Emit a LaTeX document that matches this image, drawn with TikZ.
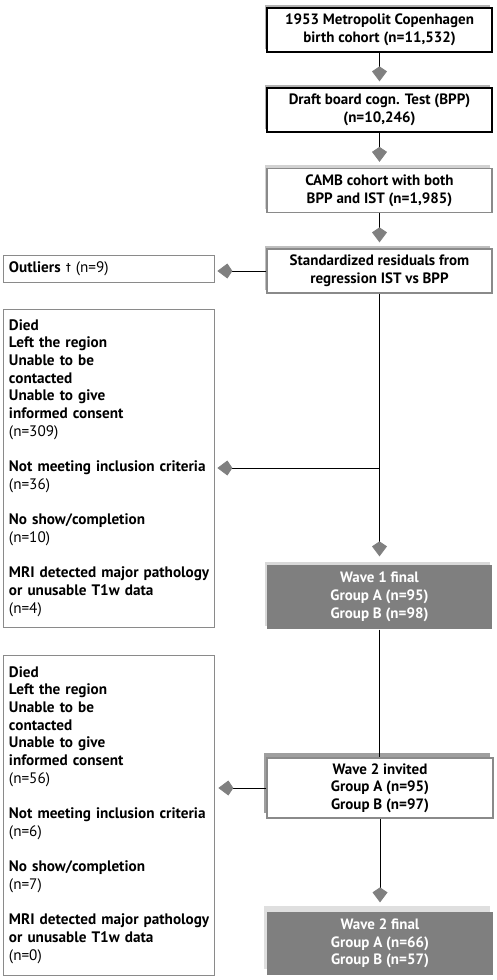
\documentclass[tikz,border=0pt]{standalone}
\usepackage{fontspec}
\setmainfont{PT Sans}
\usetikzlibrary{arrows.meta,shadows}
\definecolor{finalgray}{HTML}{7F7F7F}
\definecolor{framegray}{HTML}{8A8A8A}

\begin{document}
\begin{tikzpicture}[x=1pt,y=-1pt,
  box/.style={draw=black, line width=1.2pt, fill=white, minimum width=225pt, minimum height=44pt,
    inner sep=0pt, align=center, font=\fontsize{15}{17.7}\selectfont\bfseries},
  shade/.style={general shadow={fill=#1, shadow xshift=-2.5pt, shadow yshift=3.5pt}},
  finalbox/.style={box, draw=none, fill=finalgray, text=white, minimum height=64pt},
  sidebox/.style={draw=framegray, line width=0.8pt, fill=white, text width=199pt, inner xsep=6pt,
    inner ysep=0pt, align=left, font=\fontsize{15.2}{17.7}\selectfont\bfseries},
  arr/.style={draw=black, line width=0.8pt,
    -{Kite[length=15pt, width=15pt, inset=5pt, color=gray, fill=gray]}}]
\useasboundingbox (0,0) rectangle (497,980);

\node [box, shade=gray!60] (birth) at (379.5,30) {1953 Metropolit Copenhagen\\birth cohort (n=11,532)};
\node [box, shade=gray!60] (draft) at (379.5,110) {Draft board cogn. Test (BPP)\\(n=10,246)};
\node [box, draw=framegray, shade=gray!35] (camb) at (379.5,190.5) {CAMB cohort with both\\BPP and IST (n=1,985)};
\node [box, draw=framegray, shade=gray!50] (resid) at (379.5,271) {Standardized residuals from\\regression IST vs BPP};

\node [sidebox, minimum height=27pt] (outl) at (108.5,268.5) {Outliers {\fontsize{10}{10}\selectfont\raisebox{2pt}{\textdagger}} \textmd{(n=9)}};

\node [sidebox, minimum height=318pt] (excla) at (108.5,468) {Died\\Left the region\\Unable to be\\contacted\\Unable to give\\informed consent\\\textmd{(n=309)}\\[17.7pt]
\mbox{Not meeting inclusion criteria}\\\textmd{(n=36)}\\[17.7pt]
No show/completion\\\textmd{(n=10)}\\[17.7pt]
\mbox{MRI detected major pathology}\\or unusable T1w data\\\textmd{(n=4)}};

\node [finalbox, shade=gray!30] (wavea) at (379.5,597) {Wave 1 final\\Group A (n=95)\\Group B (n=98)};

\node [box, draw=framegray, minimum width=226pt, minimum height=60pt, general shadow={fill=gray!75, shadow xshift=-3pt, shadow yshift=5pt}] (invb) at (380,788) {Wave 2 invited\\Group A (n=95)\\Group B (n=97)};

\node [sidebox, minimum height=320pt] (exclb) at (108.5,815) {Died\\Left the region\\Unable to be\\contacted\\Unable to give\\informed consent\\\textmd{(n=56)}\\[17.7pt]
\mbox{Not meeting inclusion criteria}\\\textmd{(n=6)}\\[17.7pt]
No show/completion\\\textmd{(n=7)}\\[17.7pt]
\mbox{MRI detected major pathology}\\or unusable T1w data\\\textmd{(n=0)}};

\node [finalbox, minimum width=226pt, minimum height=63pt, general shadow={fill=gray!25, shadow xshift=-3pt, shadow yshift=6pt}] (waveb) at (380,943.5) {Wave 2 final\\Group A (n=66)\\Group B (n=57)};

\draw [arr, shorten >=6pt] (birth) -- (draft);
\draw [arr, shorten >=6pt] (draft) -- (camb);
\draw [arr, shorten >=6pt] (camb) -- (resid);
\draw [arr, shorten >=3pt] (resid.west) -- (resid.west -| outl.east);
\draw [arr, shorten >=8pt] (resid) -- (wavea);
\draw [arr, shorten >=3pt] (resid.south |- excla.east) -- (excla.east);
\draw [line width=0.8pt] (wavea) -- (wavea |- invb.north);
\draw [arr, shorten >=4pt] (invb.west) -- (invb.west -| exclb.east);
\draw [arr, shorten >=9pt] (invb) -- (invb |- waveb.north);
\end{tikzpicture}
\end{document}
